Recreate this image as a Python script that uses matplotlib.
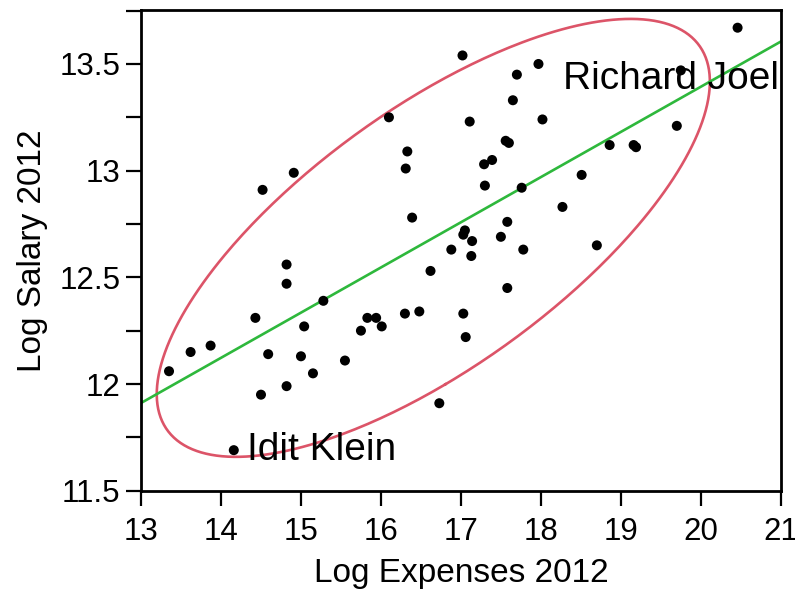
import numpy as np
import matplotlib
matplotlib.use("Agg")
import matplotlib.pyplot as plt
from matplotlib.ticker import MultipleLocator, FuncFormatter

plt.rcParams['font.family'] = ['Liberation Sans', 'DejaVu Sans']

# Log-transformed 2012 expenses and salaries
log_expenses = [
    13.35, 13.62, 13.87, 14.16, 14.43, 14.50, 14.52, 14.59, 14.82, 14.82,
    14.82, 14.91, 15.00, 15.04, 15.15, 15.28, 15.55, 15.75, 15.83, 15.94,
    16.01, 16.10, 16.30, 16.31, 16.33, 16.39, 16.48, 16.62, 16.73, 16.88,
    17.02, 17.03, 17.05, 17.03, 17.06, 17.11, 17.13, 17.14, 17.29, 17.30,
    17.39, 17.50, 17.56, 17.60, 17.58, 17.58, 17.65, 17.70, 17.76, 17.78,
    17.97, 18.02, 18.27, 18.51, 18.70, 18.86, 19.16, 19.19, 19.70, 19.75,
    20.46,
]
log_salary = [
    12.06, 12.15, 12.18, 11.69, 12.31, 11.95, 12.91, 12.14, 12.56, 12.47,
    11.99, 12.99, 12.13, 12.27, 12.05, 12.39, 12.11, 12.25, 12.31, 12.31,
    12.27, 13.25, 12.33, 13.01, 13.09, 12.78, 12.34, 12.53, 11.91, 12.63,
    13.54, 12.70, 12.72, 12.33, 12.22, 13.23, 12.60, 12.67, 13.03, 12.93,
    13.05, 12.69, 13.14, 13.13, 12.76, 12.45, 13.33, 13.45, 12.92, 12.63,
    13.50, 13.24, 12.83, 12.98, 12.65, 13.12, 13.12, 13.11, 13.21, 13.47,
    13.67,
]

# Labelled people: (name, index into the arrays, text offset in points)
labelled = [
    ("Idit Klein", 3, (9.6, -7.0)),
    ("Richard Joel", 59, (-85.0, -13.2)),
]

x = np.array(log_expenses)
y = np.array(log_salary)

fig = plt.figure(figsize=(7.95, 5.95), dpi=100)
ax = fig.add_axes([0.1774, 0.1753, 0.8047, 0.8079])

# 90% bivariate normal density ellipse
mean = np.array([x.mean(), y.mean()])
cov = np.cov(x, y)
vals, vecs = np.linalg.eigh(cov)
chi2_q = -2.0 * np.log(1.0 - 0.90)
t = np.linspace(0, 2 * np.pi, 400)
circle = np.vstack([np.cos(t), np.sin(t)])
ell = vecs @ (np.sqrt(vals * chi2_q)[:, None] * circle) + mean[:, None]
ax.plot(ell[0], ell[1], color='#DC5468', lw=1.9, zorder=2)

# Least-squares fit line
slope, intercept = np.polyfit(x, y, 1)
xl = np.array([13.0, 21.0])
ax.plot(xl, intercept + slope * xl, color='#2EB83C', lw=1.9, zorder=2)

ax.scatter(x, y, s=52, color='black', edgecolors='none', zorder=3)

for name, i, off in labelled:
    ax.annotate(name, (x[i], y[i]), xytext=off, textcoords='offset points',
                ha='left', va='baseline', fontsize=28, color='black', zorder=4)

ax.set_xlim(13, 21)
ax.set_ylim(11.5, 13.753)
ax.xaxis.set_major_locator(MultipleLocator(1))
ax.yaxis.set_major_locator(MultipleLocator(0.5))
ax.yaxis.set_minor_locator(MultipleLocator(0.25))
ax.yaxis.set_major_formatter(FuncFormatter(lambda v, p: f"{v:g}"))

for s in ax.spines.values():
    s.set_linewidth(2.0)
ax.tick_params(axis='both', which='both', direction='out', length=11,
               width=1.6, labelsize=22.5)
ax.tick_params(axis='x', pad=8)
ax.tick_params(axis='y', pad=4)

ax.set_xlabel("Log Expenses 2012", fontsize=24, labelpad=8)
ax.set_ylabel("Log Salary 2012", fontsize=24, labelpad=8)

fig.savefig("out.png", dpi=100)
